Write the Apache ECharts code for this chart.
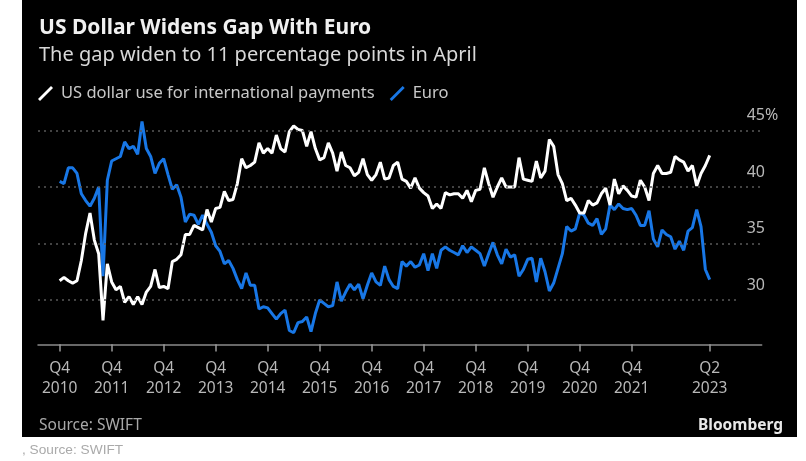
<!DOCTYPE html>
<html>
<head>
<meta charset="utf-8">
<style>
  html, body { margin: 0; padding: 0; background: #fff; }
  #main { width: 806px; height: 461px; }
</style>
<script src="https://cdn.jsdelivr.net/npm/echarts@6/dist/echarts.min.js"></script>
</head>
<body>
<div id="main"></div>
<script>
var chart = echarts.init(document.getElementById('main'));

// monthly share in %, Oct 2010 to Apr 2023
var usd = [
  31.7,32.0,31.7,31.5,31.7,33.5,35.9,37.7,35.3,34.1,28.2,33.2,
  31.6,30.9,31.2,29.8,30.3,29.6,30.3,29.6,30.7,31.2,32.7,31.1,
  31.2,31.0,33.4,33.6,34.0,35.8,35.8,36.6,36.4,36.2,38.0,36.9,
  38.1,38.2,39.6,38.8,38.9,40.3,42.5,41.7,41.9,42.2,43.9,43.0,
  43.4,43.0,44.6,43.4,43.1,44.9,45.4,45.1,45.0,43.6,44.9,43.4,
  42.4,42.6,43.9,43.0,41.4,43.1,41.9,41.7,41.0,41.3,42.5,41.1,
  40.6,41.1,42.2,40.7,40.8,41.9,42.2,40.7,40.5,39.9,40.8,39.9,
  39.5,39.2,38.1,38.5,38.1,39.5,39.3,39.4,39.4,39.0,39.7,38.7,
  39.7,39.8,41.7,40.3,39.1,40.0,40.8,40.0,40.0,40.0,42.6,40.7,
  40.6,40.5,42.3,40.8,41.4,44.2,43.6,41.1,40.3,38.8,39.0,38.4,
  37.7,37.7,38.8,38.4,38.6,39.4,39.9,38.4,40.7,39.4,40.1,39.7,
  39.2,39.1,40.6,40.0,38.8,41.2,41.9,41.2,41.2,41.3,42.7,42.4,
  42.2,41.4,41.9,40.1,41.2,41.9,42.8
];
var euro = [
  40.5,40.3,41.7,41.7,41.2,39.4,38.8,38.3,39.0,40.0,32.1,40.6,
  42.3,42.5,42.7,44.0,43.4,43.6,42.9,45.8,43.4,42.7,41.2,42.1,
  42.5,41.1,39.8,40.2,39.1,36.9,37.6,37.5,36.7,37.5,36.7,36.0,
  34.8,34.3,33.2,33.5,32.8,31.8,31.0,32.4,31.3,31.3,29.2,29.4,
  29.3,28.8,28.3,28.8,29.1,27.3,27.1,28.0,28.1,28.5,27.2,28.8,
  30.0,29.7,29.4,29.5,31.6,29.9,30.7,31.4,30.9,31.4,30.1,31.3,
  32.4,31.6,31.3,33.0,31.8,31.2,31.0,33.4,33.0,33.4,32.9,33.1,
  34.1,32.6,34.1,32.8,34.4,34.7,34.4,34.2,34.0,34.8,34.2,34.7,
  34.4,34.1,33.0,34.1,35.1,34.0,33.2,34.5,33.8,34.0,32.1,32.7,
  33.6,33.7,31.6,33.7,32.5,30.8,31.5,32.8,34.1,36.5,36.1,36.3,
  37.7,37.5,36.8,36.6,37.2,35.8,36.3,38.4,38.0,38.5,38.1,38.0,
  38.1,37.5,36.6,36.6,37.9,35.4,34.7,36.2,35.8,35.6,34.5,35.2,
  34.4,36.1,36.4,38.0,36.5,32.7,31.8
];

// the axis runs a few months past the data on both sides
var pad = 5;
var months = [];
for (var i = 0; i < pad + usd.length + 12; i++) {
  var m = 4 + i; // May 2010 is the first slot
  months.push((2010 + Math.floor(m / 12)) + '-' + (m % 12 + 1));
}
function withPad(list) {
  var out = [];
  for (var i = 0; i < pad; i++) out.push(null);
  return out.concat(list);
}

// one tick every October, then the last month
function quarterLabel(value) {
  var p = value.split('-');
  if (p[1] === '10' && +p[0] <= 2021) return 'Q4\n' + p[0];
  if (value === '2023-4') return 'Q2\n2023';
  return '';
}
var tickIndex = [];
months.forEach(function(item, idx) {
  if (quarterLabel(item) !== '') tickIndex.push(idx);
});

function gridLine(y, last) {
  return [{ xAxis: 0, yAxis: y }, { xAxis: last, yAxis: y }];
}
// axisTick stays hidden with the raised axis, so the ticks are short guide lines
var tickLines = tickIndex.map(function(idx) {
  return [{ xAxis: idx, yAxis: 26.08 }, { xAxis: idx, yAxis: 25.45 }];
});

var option = {
  backgroundColor: '#fff',
  animation: false,
  textStyle: { fontFamily: 'Noto Sans' },
  graphic: [
    { type: 'rect', z: -10, shape: { x: 22, y: 0, width: 775, height: 437 }, style: { fill: '#000' } },
    { type: 'text', z: 1, left: 39, top: 418, style: { text: 'Source: SWIFT', fill: '#a8a8a8', font: '15.5px "Noto Sans"' } },
    { type: 'text', z: 1, left: 698, top: 418, style: { text: 'Bloomberg', fill: '#e8e8e8', font: 'bold 15.5px "Noto Sans"' } },
    // the panel cuts the logo off at its lower edge
    { type: 'rect', z: 2, shape: { x: 690, y: 437, width: 100, height: 8 }, style: { fill: '#fff' } },
    { type: 'text', z: 3, left: 22, top: 443, style: { text: ', Source: SWIFT', fill: '#aaa', font: '13.7px "Liberation Sans"' } }
  ],
  title: {
    text: 'US Dollar Widens Gap With Euro',
    subtext: 'The gap widen to 11 percentage points in April',
    left: 39,
    top: 18,
    padding: 0,
    itemGap: 6,
    textStyle: { color: '#f0f0f0', fontSize: 21, fontWeight: 'bold', fontFamily: 'Noto Sans' },
    subtextStyle: { color: '#d8d8d8', fontSize: 20, fontFamily: 'Noto Sans' }
  },
  legend: {
    left: 38,
    top: 85,
    padding: 0,
    itemWidth: 17,
    itemHeight: 15,
    itemGap: 15,
    data: ['US dollar use for international payments', 'Euro'],
    icon: 'path://M0 13L2 15L15 2L13 0Z',
    textStyle: { color: '#c8c8c8', fontSize: 16.5, padding: [0, 0, 0, 2] }
  },
  grid: { left: 38, width: 723.7, top: 74, height: 282.5 },
  xAxis: {
    type: 'category',
    boundaryGap: false,
    data: months,
    offset: -12.2,
    axisLine: { lineStyle: { color: '#8a8a8a', width: 1.5 } },
    axisTick: { show: false },
    axisLabel: {
      customValues: tickIndex,
      formatter: quarterLabel,
      color: '#b8b8b8',
      fontSize: 15.5,
      lineHeight: 20,
      margin: 14
    }
  },
  yAxis: {
    type: 'value',
    position: 'right',
    min: 25,
    max: 50,
    interval: 5,
    splitLine: { show: false },
    axisLine: { show: false },
    axisTick: { show: false },
    axisLabel: {
      customValues: [30, 35, 40, 45],
      formatter: function(v) { return v === 45 ? '45%' : v; },
      margin: -15,
      align: 'left',
      verticalAlign: 'bottom',
      padding: [0, 0, 7, 0],
      color: '#b8b8b8',
      fontSize: 16
    }
  },
  series: [
    {
      name: 'Euro',
      type: 'line',
      data: withPad(euro),
      symbol: 'none',
      clip: false,
      itemStyle: { color: '#1877e6' },
      lineStyle: { color: '#1877e6', width: 3 },
      // horizontal guides, the one at 30 stops short
      markLine: {
        silent: true,
        symbol: 'none',
        label: { show: false },
        lineStyle: { color: '#5a5a5a', type: [2, 4], width: 1.5 },
        data: [gridLine(30, 162), gridLine(35, 167), gridLine(40, 167), gridLine(45, 167)]
      }
    },
    {
      name: 'US dollar use for international payments',
      type: 'line',
      data: withPad(usd),
      symbol: 'none',
      clip: false,
      itemStyle: { color: '#fff' },
      lineStyle: { color: '#fff', width: 3 },
      markLine: {
        silent: true,
        symbol: 'none',
        label: { show: false },
        lineStyle: { color: '#9a9a9a', type: 'solid', width: 1.5 },
        data: tickLines
      }
    }
  ]
};

chart.setOption(option);
</script>
</body>
</html>
